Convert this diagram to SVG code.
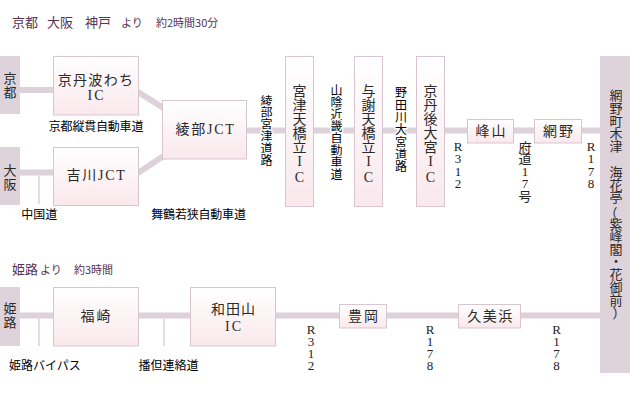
<svg xmlns="http://www.w3.org/2000/svg" width="630" height="400" viewBox="0 0 630 400">
<defs>
<linearGradient id="g" x1="0" y1="0" x2="0" y2="1">
<stop offset="0" stop-color="#ffffff"/>
<stop offset="1" stop-color="#f9e8ec"/>
</linearGradient>
<style>
.side{fill:#ded2db}
.box{fill:url(#g);stroke:#d9c5d0;stroke-width:1}
.road{stroke:#ddd1da;stroke-width:6;fill:none}
.thin{stroke:#ddd1da;stroke-width:1.5;fill:none}
.t{font-family:"Liberation Serif","Noto Sans CJK JP",serif;font-size:14px;fill:#2a2a2a;text-anchor:middle}
.s13{font-size:13px}
.lab{font-family:"Noto Sans CJK JP",sans-serif;font-size:12px;font-weight:normal;fill:#000000;text-anchor:middle}
.halo{paint-order:stroke;stroke:#ffffff;stroke-width:3;stroke-linejoin:round}
.r{font-family:"Liberation Serif","Noto Sans CJK JP",serif;font-size:13px;fill:#222;text-anchor:middle}
.ttl{font-family:"Noto Sans CJK JP",sans-serif;fill:#5a3152}
</style>
</defs>
<rect width="630" height="400" fill="#ffffff"/>

<g id="titles">
<text class="ttl" y="27"><tspan x="12" font-size="13">京都</tspan><tspan x="47" font-size="13">大阪</tspan><tspan x="85" font-size="13">神戸</tspan><tspan x="121" font-size="11">より</tspan><tspan x="156" font-size="11">約2時間30分</tspan></text>
<text class="ttl" y="274"><tspan x="12" font-size="13">姫路</tspan><tspan x="40" font-size="11">より</tspan><tspan x="74" font-size="11">約3時間</tspan></text>
</g>

<g id="connectors">
<line class="road" x1="20" y1="90" x2="56" y2="90"/>
<line class="road" x1="130" y1="87" x2="170" y2="112"/>
<line class="road" x1="20" y1="172.5" x2="56" y2="172.5"/>
<line class="road" x1="130" y1="178.3" x2="170" y2="151.7"/>
<line class="thin" x1="39" y1="175.5" x2="39" y2="204"/>
<line class="road" x1="245" y1="130.5" x2="602" y2="130.5"/>
<line class="road" x1="20" y1="315.5" x2="602" y2="315.5"/>
<line class="thin" x1="39" y1="318.5" x2="39" y2="346"/>
<line class="thin" x1="164" y1="318.5" x2="164" y2="346"/>
</g>

<g id="kyoto">
<rect class="side" x="0" y="56" width="20" height="58"/>
<text class="t s13" x="10 10" y="82.5 96.5">京都</text>
</g>
<g id="osaka">
<rect class="side" x="0" y="147" width="20" height="58"/>
<text class="t s13" x="10 10" y="175 189">大阪</text>
</g>
<g id="himeji">
<rect class="side" x="0" y="287" width="20" height="59"/>
<text class="t s13" x="10 10" y="312.5 326.5">姫路</text>
</g>

<g id="kyotanba-wachi-ic">
<rect class="box" x="53.5" y="56.5" width="85" height="58.5"/>
<text class="t" x="96" y="84.8" letter-spacing="1.3">京丹波わち</text>
<text class="t" x="96.5" y="100" letter-spacing="2">IC</text>
</g>
<g id="yokawa-jct">
<rect class="box" x="53.5" y="147.5" width="85" height="58"/>
<text class="t" x="96.5" y="180" letter-spacing="1.7">吉川JCT</text>
</g>
<g id="ayabe-jct">
<rect class="box" x="162.5" y="100.5" width="84" height="58.5"/>
<text class="t" x="205.5" y="134" letter-spacing="1.7">綾部JCT</text>
</g>
<g id="miyazu-amanohashidate-ic">
<rect class="box" x="285.5" y="56.5" width="28" height="150"/>
<text class="t" x="299.5 299.5 299.5 299.5 299.5 299.5 299.5" y="96.3 110.3 124.3 138.3 152.3 166 181.6">宮津天橋立IC</text>
</g>
<g id="yosa-amanohashidate-ic">
<rect class="box" x="354.5" y="56.5" width="28" height="150"/>
<text class="t" x="368.5 368.5 368.5 368.5 368.5 368.5 368.5" y="96.3 110.3 124.3 138.3 152.3 166 181.6">与謝天橋立IC</text>
</g>
<g id="kyotango-omiya-ic">
<rect class="box" x="416.5" y="56.5" width="28" height="150"/>
<text class="t" x="430.5 430.5 430.5 430.5 430.5 430.5 430.5" y="96.3 110.3 124.3 138.3 152.3 166 181.6">京丹後大宮IC</text>
</g>
<g id="mineyama">
<rect class="box" x="467.5" y="119.5" width="46" height="23.5"/>
<text class="t" x="491.5" y="136" letter-spacing="2">峰山</text>
</g>
<g id="amino">
<rect class="box" x="534.5" y="119.5" width="47" height="23.5"/>
<text class="t" x="559" y="136" letter-spacing="2">網野</text>
</g>
<g id="destination">
<rect class="side" x="600" y="56" width="30" height="317"/>
<text class="t s13" x="616 616 616 616 616 616 616 616 616 611 616 616 616 616 616 616 616 619" y="99.9 112.7 125.5 138.3 151.1 163.9 176.7 189.5 202.3 218 228.5 241 253.5 266.3 279.1 291.9 304.7 318">網野町木津　海花亭（紫峰閣・花御前）</text>
</g>
<g id="fukusaki">
<rect class="box" x="53.5" y="287.5" width="85" height="58.5"/>
<text class="t" x="96.5" y="321" letter-spacing="2">福崎</text>
</g>
<g id="wadayama-ic">
<rect class="box" x="190.5" y="287.5" width="85" height="58.5"/>
<text class="t" x="233.5" y="314.3" letter-spacing="1">和田山</text>
<text class="t" x="234" y="330.6" letter-spacing="2">IC</text>
</g>
<g id="toyooka">
<rect class="box" x="339.5" y="304.5" width="47" height="23.5"/>
<text class="t" x="364" y="321.3" letter-spacing="2">豊岡</text>
</g>
<g id="kumihama">
<rect class="box" x="458.5" y="304.5" width="62" height="23.5"/>
<text class="t" x="490.5" y="321.3" letter-spacing="1.5">久美浜</text>
</g>

<g id="road-labels">
<text class="lab" x="96" y="130.6" letter-spacing="-0.2">京都縦貫自動車道</text>
<text class="lab" x="198.5" y="218.6" letter-spacing="-0.2">舞鶴若狭自動車道</text>
<text class="lab" x="39.3" y="218.6">中国道</text>
<text class="lab" x="45" y="369.6">姫路バイパス</text>
<text class="lab" x="168.5" y="369.6">播但連絡道</text>
<text class="lab halo" x="266.5 266.5 266.5 266.5 266.5 266.5" y="105.6 117.4 129.2 141 152.8 164.6">綾部宮津道路</text>
<text class="lab halo" x="336.5 336.5 336.5 336.5 336.5 336.5 336.5 336.5" y="94.6 106.6 118.6 130.6 142.6 154.6 166.6 178.6">山陰近畿自動車道</text>
<text class="lab halo" x="401 401 401 401 401 401 401" y="97.1 109.5 121.8 134.2 146.5 158.9 171.2">野田川大宮道路</text>
<text class="r" x="458 458 458 458" y="151 163.4 175.8 188.2">R312</text>
<text class="r" x="525 525 525 525 525" y="151.6 163.4 175.6 187.9 200.8">府道17号</text>
<text class="r" x="591 591 591 591" y="151 163.4 175.8 188.2">R178</text>
<text class="r" x="311 311 311 311" y="334.3 346.1 357.9 369.6">R312</text>
<text class="r" x="430 430 430 430" y="334.3 346.1 357.9 369.6">R178</text>
<text class="r" x="556.5 556.5 556.5 556.5" y="334.3 346.1 357.9 369.6">R178</text>
</g>
</svg>
